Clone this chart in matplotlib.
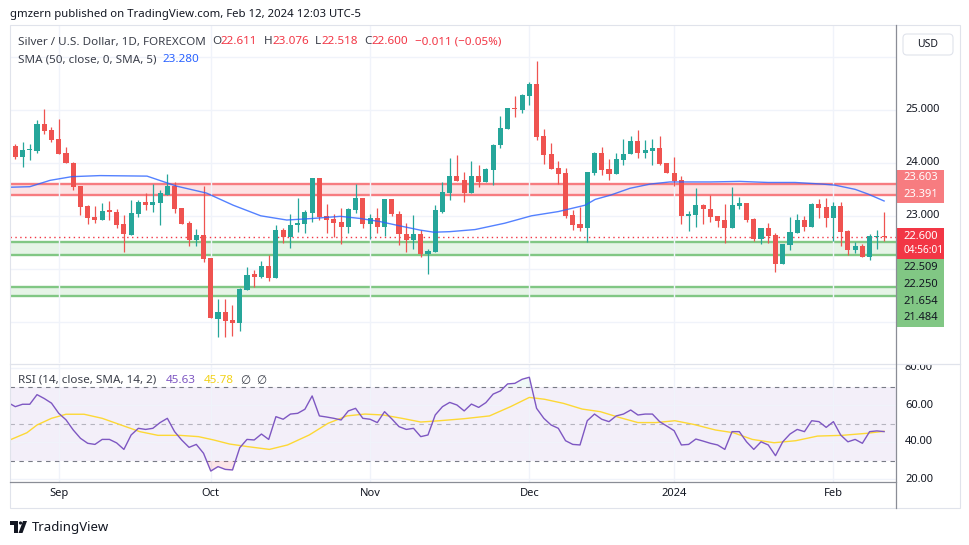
import numpy as np
import matplotlib
matplotlib.use('Agg')
import matplotlib.pyplot as plt
from matplotlib.patches import Rectangle, FancyBboxPatch, Polygon, Circle

plt.rcParams['font.family'] = ['Noto Sans', 'DejaVu Sans']

# ---------------- data ----------------
opens = [23.43, 24.32, 24.12, 24.25, 24.22, 24.74, 24.62, 24.45, 24.19, 24.00,
         23.56, 23.19, 22.98, 22.93, 23.10, 23.07, 22.84, 22.64, 23.03, 23.26,
         23.20, 23.25, 23.39, 23.56, 23.15, 22.86, 22.55, 22.64, 22.20, 21.05,
         21.18, 21.03, 20.98, 21.60, 21.90, 21.85, 22.05, 21.83, 22.73, 22.60,
         22.82, 22.85, 23.06, 23.71, 23.00, 22.94, 22.88, 22.79, 23.11, 23.34,
         22.85, 22.96, 22.78, 23.32, 23.03, 22.65, 22.55, 22.66, 22.27, 22.32,
         23.08, 23.43, 23.75, 23.68, 23.43, 23.75, 23.63, 23.87, 24.33, 24.64,
         25.04, 25.00, 25.26, 25.49, 24.51, 24.17, 23.90, 23.81, 23.02, 22.85,
         22.77, 23.81, 24.19, 23.88, 23.79, 24.05, 24.16, 24.41, 24.19, 24.22,
         24.28, 24.00, 23.81, 23.68, 23.00, 23.02, 23.20, 23.13, 23.00, 22.92,
         22.76, 23.19, 23.24, 22.94, 22.57, 22.77, 22.64, 22.09, 22.45, 22.68,
         22.92, 22.79, 23.22, 23.17, 22.95, 23.19, 22.71, 22.36, 22.43, 22.23,
         22.59, 22.611]
highs = [24.32, 24.35, 24.40, 24.36, 24.81, 25.02, 24.68, 24.83, 24.30, 24.02,
         23.56, 23.20, 23.19, 23.24, 23.28, 23.12, 23.01, 23.30, 23.30, 23.43,
         23.60, 23.49, 23.79, 23.64, 23.15, 22.90, 22.75, 23.56, 22.20, 21.43,
         21.43, 21.31, 21.64, 22.03, 21.98, 22.15, 22.25, 22.83, 22.76, 23.03,
         23.34, 23.11, 23.71, 23.71, 23.22, 23.03, 23.14, 23.15, 23.61, 23.34,
         23.03, 23.15, 23.32, 23.32, 23.09, 22.86, 23.02, 22.74, 22.37, 23.20,
         23.64, 24.09, 24.15, 23.83, 24.04, 23.96, 23.90, 24.36, 24.89, 25.04,
         25.26, 25.30, 25.53, 25.93, 24.64, 24.38, 24.04, 23.90, 23.11, 23.17,
         23.83, 24.21, 24.30, 24.07, 24.19, 24.45, 24.51, 24.62, 24.43, 24.45,
         24.51, 24.00, 24.11, 23.75, 23.10, 23.53, 23.22, 23.40, 23.00, 23.22,
         23.54, 23.36, 23.24, 22.96, 22.77, 22.86, 22.67, 22.47, 22.98, 23.03,
         23.00, 23.24, 23.32, 23.34, 23.26, 23.26, 22.73, 22.50, 22.47, 22.66,
         22.73, 23.076]
lows = [23.43, 24.07, 23.93, 24.05, 24.19, 24.55, 24.40, 24.17, 23.99, 23.49,
        23.02, 22.84, 22.87, 22.93, 22.92, 22.76, 22.32, 22.64, 22.97, 23.11,
        23.08, 22.83, 23.39, 23.06, 22.85, 22.43, 22.42, 22.13, 21.06, 20.71,
        20.71, 20.73, 20.83, 21.60, 21.66, 21.83, 21.77, 21.83, 22.49, 22.40,
        22.70, 22.67, 22.89, 22.92, 22.68, 22.59, 22.47, 22.68, 23.05, 22.76,
        22.57, 22.68, 22.62, 23.00, 22.45, 22.32, 22.37, 22.22, 21.90, 22.32,
        23.05, 23.30, 23.66, 23.26, 23.43, 23.55, 23.63, 23.58, 24.29, 24.64,
        24.87, 24.94, 25.09, 24.43, 23.98, 23.88, 23.60, 22.96, 22.73, 22.71,
        22.50, 23.77, 23.77, 23.68, 23.79, 23.96, 24.16, 24.10, 24.10, 23.96,
        23.96, 23.80, 23.57, 22.85, 22.72, 22.79, 22.85, 22.89, 22.79, 22.49,
        22.76, 23.13, 22.89, 22.52, 22.46, 22.49, 21.94, 22.08, 22.36, 22.68,
        22.72, 22.79, 22.96, 22.79, 22.53, 22.42, 22.26, 22.29, 22.23, 22.17,
        22.38, 22.518]
closes = [24.32, 24.11, 24.24, 24.26, 24.74, 24.61, 24.43, 24.17, 23.99, 23.54,
          23.17, 22.96, 22.93, 23.09, 23.08, 22.83, 22.65, 23.05, 23.27, 23.20,
          23.26, 23.43, 23.56, 23.13, 22.85, 22.55, 22.64, 22.19, 21.06, 21.18,
          21.01, 20.98, 21.62, 21.89, 21.85, 22.05, 21.83, 22.73, 22.60, 22.83,
          22.87, 23.07, 23.71, 22.97, 22.93, 22.87, 22.79, 23.12, 23.34, 22.85,
          22.96, 22.78, 23.32, 23.03, 22.65, 22.55, 22.65, 22.27, 22.33, 23.11,
          23.45, 23.75, 23.66, 23.43, 23.75, 23.63, 23.88, 24.34, 24.66, 25.04,
          25.02, 25.28, 25.49, 24.49, 24.15, 23.88, 23.79, 22.99, 22.83, 22.77,
          23.83, 24.19, 23.87, 23.79, 24.07, 24.17, 24.41, 24.19, 24.24, 24.28,
          23.98, 23.80, 23.66, 23.00, 23.03, 23.20, 23.12, 22.98, 22.91, 22.76,
          23.20, 23.24, 22.93, 22.57, 22.77, 22.62, 22.09, 22.47, 22.69, 22.92,
          22.79, 23.22, 23.15, 22.95, 23.19, 22.70, 22.36, 22.43, 22.23, 22.61,
          22.62, 22.600]

sma_idx = [0.27, 3.0, 5.8, 8.8, 12.7, 19.2, 23.3, 27.4, 31.1, 34.9, 38.5, 42.1,
           45.9, 48.6, 51.4, 54.1, 56.9, 58.8, 61.0, 64.5, 68.6, 72.3, 76.0,
           79.7, 81.1, 83.2, 85.9, 88.7, 91.4, 94.2, 97.0, 101.1, 105.0, 108.7,
           112.4, 114.2, 117.0, 118.8, 121.0]
sma_val = [23.54, 23.55, 23.67, 23.74, 23.76, 23.75, 23.56, 23.43, 23.20, 23.00,
           22.92, 22.95, 22.99, 22.95, 22.89, 22.81, 22.73, 22.69, 22.70, 22.74,
           22.86, 23.00, 23.08, 23.20, 23.31, 23.39, 23.52, 23.60, 23.64, 23.64,
           23.64, 23.65, 23.63, 23.63, 23.60, 23.58, 23.50, 23.41, 23.28]

rsi = [61.3, 59.1, 60.4, 60.4, 65.6, 63.5, 61.0, 55.5, 52.0, 46.5,
       42.0, 39.3, 38.7, 41.4, 41.4, 39.5, 36.0, 43.8, 47.4, 46.8,
       47.4, 50.5, 52.8, 45.6, 41.0, 37.1, 38.7, 33.9, 24.3, 26.7,
       25.2, 24.9, 36.9, 41.4, 41.1, 44.3, 41.4, 53.7, 52.3, 55.1,
       55.5, 57.7, 64.9, 54.1, 53.5, 52.8, 51.9, 56.8, 58.2, 52.8,
       52.3, 50.5, 56.4, 52.5, 48.3, 46.8, 47.4, 42.9, 43.8, 54.6,
       59.1, 61.4, 60.0, 56.8, 60.5, 58.7, 61.3, 65.9, 67.6, 71.4,
       71.7, 73.9, 75.0, 58.2, 52.8, 49.2, 47.4, 40.7, 38.7, 38.4,
       51.5, 55.1, 52.3, 51.0, 54.1, 55.1, 57.3, 54.6, 55.1, 55.1,
       51.0, 48.6, 46.1, 38.4, 38.7, 41.6, 40.5, 39.3, 38.4, 36.0,
       45.6, 45.6, 40.1, 36.0, 40.1, 38.4, 32.6, 40.1, 44.3, 46.8,
       45.6, 51.5, 51.0, 47.9, 51.0, 43.8, 40.1, 41.4, 39.3, 45.6,
       46.0, 45.63]
rsima_idx = [0.0, 2.6, 4.0, 6.0, 8.0, 10.5, 13.0, 15.6, 18.2, 20.7, 23.7, 26.3,
             28.4, 30.6, 33.1, 36.1, 38.6, 41.6, 44.2, 46.8, 49.3, 51.8, 54.4,
             57.0, 59.6, 63.0, 66.5, 69.4, 72.0, 74.1, 76.7, 79.3, 81.8, 84.4,
             87.0, 89.5, 92.1, 94.7, 97.7, 100.2, 102.8, 105.8, 108.8, 111.8,
             115.2, 118.6, 121.0]
rsima_val = [40.7, 45.0, 49.2, 52.8, 55.0, 55.0, 52.8, 49.2, 45.6, 43.6, 43.6,
             42.9, 41.1, 38.9, 37.5, 36.0, 38.4, 43.8, 50.1, 54.1, 55.1, 54.6,
             52.8, 50.8, 51.5, 52.6, 54.1, 59.1, 64.1, 63.1, 60.9, 57.8, 56.4,
             53.3, 50.5, 50.5, 51.5, 49.5, 46.5, 45.0, 41.4, 39.6, 40.7, 43.2,
             43.6, 44.7, 45.78]

month_idx = [7, 28, 50, 72, 92, 114]
month_lbl = ['Sep', 'Oct', 'Nov', 'Dec', '2024', 'Feb']

red_zone = (23.391, 23.603)
green_zone1 = (22.250, 22.509)
green_zone2 = (21.484, 21.654)
last_price = 22.600

# ---------------- figure ----------------
W, H = 970, 545
fig = plt.figure(figsize=(W / 100, H / 100), dpi=100)
fig.patch.set_facecolor('white')


def rect(x0, y0, x1, y1):
    return [x0 / W, 1 - y1 / H, (x1 - x0) / W, (y1 - y0) / H]


UP, DN = '#26a69a', '#ef5350'
GRID = '#f0f3fa'
TXT = '#131722'
LEG = '#3c404b'

XL = ((10 - 15.3) / 7.24 + 1, (896 - 15.3) / 7.24 + 1)

# main pane
ax = fig.add_axes(rect(10, 25, 896, 363))
ax.set_xlim(*XL)
ax.set_ylim(25 - (363 - 110) / 52.9, 25 + (110 - 25) / 52.9)
ax.set_yticks([21, 22, 23, 24, 25, 26])
ax.set_xticks(month_idx)
ax.grid(True, color=GRID, lw=1)
ax.tick_params(length=0, labelbottom=False, labelleft=False)
for s in ax.spines.values():
    s.set_visible(False)

for lo, hi, fc, ec in [(*red_zone, '#fde3e4', '#f77c80'),
                       (*green_zone1, '#e6f4e7', '#81c784'),
                       (*green_zone2, '#e6f4e7', '#81c784')]:
    ax.axhspan(lo, hi, color=fc, lw=0, zorder=1)
    ax.axhline(lo, color=ec, lw=1.7, zorder=1.5)
    ax.axhline(hi, color=ec, lw=1.7, zorder=1.5)

ax.axhline(last_price, color='#f23645', lw=1.0, ls=(0, (1, 2.5)), zorder=2)

o = np.array(opens); h = np.array(highs); l = np.array(lows); c = np.array(closes)
x = np.arange(len(o))
cols = np.where(c >= o, UP, DN)
ax.vlines(x, l, h, colors=cols, lw=0.9, zorder=3)
ax.bar(x, np.maximum(np.abs(c - o), 0.022), bottom=np.minimum(o, c), width=0.7,
       color=cols, lw=0, zorder=4)
ax.plot(sma_idx, sma_val, color='#2962ff', lw=1.0, alpha=0.8, zorder=5)

# RSI pane
axr = fig.add_axes(rect(10, 364, 896, 482))
axr.set_xlim(*XL)
axr.set_ylim(80 - (482 - 368) / 1.85, 80 + (368 - 364) / 1.85)
axr.set_yticks([20, 40, 60, 80])
axr.set_xticks(month_idx)
axr.set_xticklabels(month_lbl)
axr.grid(True, color=GRID, lw=1)
axr.tick_params(length=0, labelleft=False, pad=4.5, labelsize=8, labelcolor=TXT)
axr.get_xticklabels()[4].set_fontweight('bold')
for s in axr.spines.values():
    s.set_visible(False)
axr.axhspan(30, 70, color='#7e57c2', alpha=0.09, lw=0, zorder=1)
axr.axhline(70, color='#787b86', lw=0.8, ls=(0, (4, 4)), zorder=2)
axr.axhline(30, color='#787b86', lw=0.8, ls=(0, (4, 4)), zorder=2)
axr.axhline(50, color='#787b86', lw=0.8, ls=(0, (4, 4)), alpha=0.5, zorder=2)
rv = np.array(rsi)
axr.fill_between(x, rv, 30, where=rv < 30, interpolate=True, color='#f23645',
                 alpha=0.12, lw=0, zorder=2)
axr.fill_between(x, rv, 70, where=rv > 70, interpolate=True, color='#089981',
                 alpha=0.06, lw=0, zorder=2)
axr.plot(x, rv, color='#7e57c2', lw=1.0, zorder=4)
axr.plot(rsima_idx, rsima_val, color='#fdd835', lw=1.0, zorder=3)

# price-scale columns
axp = fig.add_axes(rect(896, 25, 960, 363))
axp.set_ylim(ax.get_ylim()); axp.set_xlim(0, 1); axp.axis('off')
for v in [23, 24, 25]:
    axp.text(0.14, v, f'{v:.3f}', va='center', ha='left', fontsize=8, color=TXT)
axrp = fig.add_axes(rect(896, 364, 960, 482))
axrp.set_ylim(axr.get_ylim()); axrp.set_xlim(0, 1); axrp.axis('off')
for v in [20, 40, 60, 80]:
    axrp.text(0.14, v, f'{v:.2f}', va='center', ha='left', fontsize=8,
              color=TXT, clip_on=True)

# overlay in pixel coords
ov = fig.add_axes([0, 0, 1, 1], zorder=10)
ov.set_xlim(0, W); ov.set_ylim(H, 0); ov.axis('off'); ov.patch.set_alpha(0)

ov.add_patch(Rectangle((10, 25), 950, 483, fill=False, ec='#e0e3eb', lw=0.8))
ov.plot([10, 960], [364, 364], color='#e0e3eb', lw=0.9)
ov.plot([10, 896], [482, 482], color='#8a8d96', lw=0.9)
ov.plot([896, 896], [25, 508], color='#8a8d96', lw=0.9)

# USD box
ov.add_patch(FancyBboxPatch((903, 34), 50, 21, boxstyle='round,pad=0,rounding_size=4',
                            fc='white', ec='#e0e3eb', lw=0.8))
ov.text(928, 44.5, 'USD', ha='center', va='center', fontsize=7.5, color=TXT)


# coloured price labels
def plabel(y0, y1, fc, texts, tc, bold=False):
    ov.add_patch(Rectangle((896, y0), 48.5, y1 - y0, fc=fc, ec='none'))
    for ty, s, sz in texts:
        ov.text(903.5, ty, s, ha='left', va='center', fontsize=sz, color=tc,
                fontweight='bold' if bold else 'normal')


plabel(169.5, 186, '#f77c80', [(177.5, f'{red_zone[1]:.3f}', 8)], 'white', True)
plabel(186, 202.5, '#f77c80', [(194.5, f'{red_zone[0]:.3f}', 8)], 'white', True)
plabel(228, 259, '#f23645', [(236.7, f'{last_price:.3f}', 8),
                             (250.5, '04:56:01', 7.2)], 'white', True)
plabel(259, 327, '#81c784', [(267.7, f'{green_zone1[1]:.3f}', 8),
                             (284.3, f'{green_zone1[0]:.3f}', 8),
                             (301, f'{green_zone2[1]:.3f}', 8),
                             (317.7, f'{green_zone2[0]:.3f}', 8)], TXT)


# header / legends
def t(xp, yp, s, color=TXT, size=8.4, **kw):
    ov.text(xp, yp, s, color=color, fontsize=size, va='center', ha='left', **kw)


t(10, 14.5, 'gmzern published on TradingView.com, Feb 12, 2024 12:03 UTC-5', size=8.2)
RED = '#f23645'
t(18, 42, 'Silver / U.S. Dollar, 1D, FOREXCOM', color=LEG)
for lx, letter, vx, val in [(212.7, 'O', 221, '22.611'), (264, 'H', 272.5, '23.076'),
                            (315, 'L', 322, '22.518'), (364, 'C', 372, '22.600')]:
    t(lx, 42, letter, color=LEG)
    t(vx, 42, val, color=RED)
t(415, 42, '\u22120.011 (\u22120.05%)', color=RED)
t(18, 60, 'SMA (50, close, 0, SMA, 5)', color=LEG)
t(163, 60, '23.280', color='#2962ff')
t(18, 380.5, 'RSI (14, close, SMA, 14, 2)', color=LEG)
t(166, 380.5, '45.63', color='#7e57c2')
t(204, 380.5, '45.78', color='#f2d21b')
t(240, 380.5, '\u2205', color=LEG, family=['DejaVu Sans'])
t(256, 380.5, '\u2205', color=LEG, family=['DejaVu Sans'])

# TradingView logo
ov.add_patch(Polygon([(10, 521), (18, 521), (18, 533), (14.5, 533), (14.5, 524.5), (10, 524.5)],
                     closed=True, fc=TXT, ec='none'))
ov.add_patch(Circle((20.5, 523), 1.6, fc=TXT, ec='none'))
ov.add_patch(Polygon([(23, 521), (27, 521), (22.5, 533), (18.5, 533)], closed=True,
                     fc=TXT, ec='none'))
t(32, 527, 'TradingView', size=9.5)

fig.savefig('out.png', dpi=100, facecolor='white')
